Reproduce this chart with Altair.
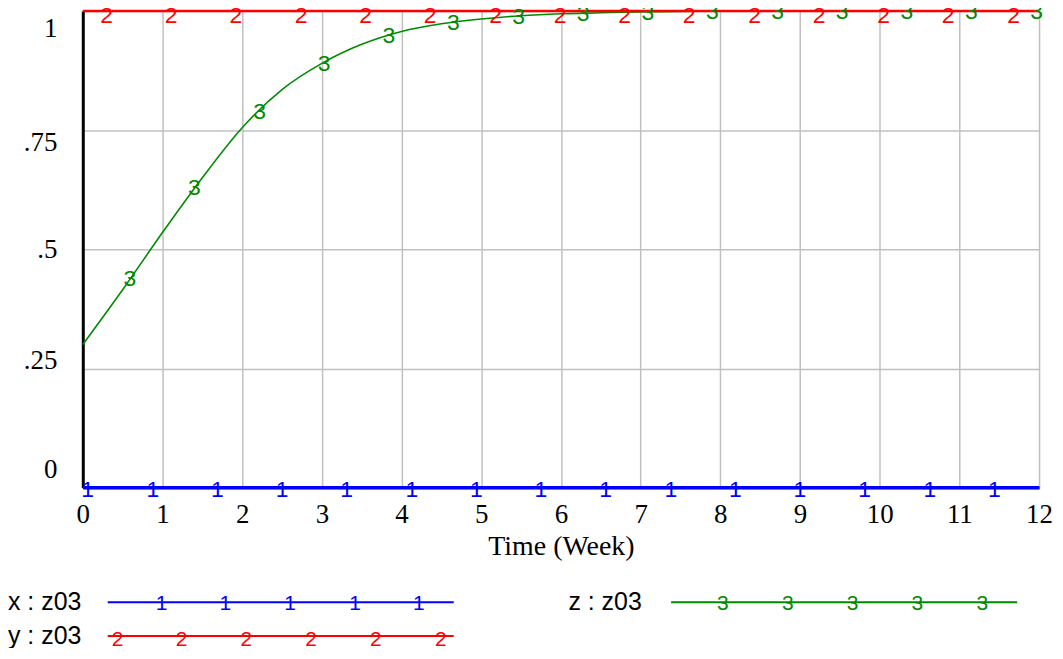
import altair as alt
import pandas as pd

# ---- data ----
time_grid = [0, 0.5, 1, 1.5, 2, 2.5, 3, 3.5, 4, 4.5, 5, 5.5, 6, 6.5, 7, 7.5,
             8, 8.5, 9, 9.5, 10, 10.5, 11, 11.5, 12]
x_values = [0, 0, 0, 0, 0, 0, 0, 0, 0, 0, 0, 0, 0, 0, 0, 0, 0, 0, 0, 0, 0, 0, 0, 0, 0]
y_values = [1, 1, 1, 1, 1, 1, 1, 1, 1, 1, 1, 1, 1, 1, 1, 1, 1, 1, 1, 1, 1, 1, 1, 1, 1]
z_values = [0.30, 0.415, 0.535, 0.65, 0.755, 0.835, 0.89, 0.93, 0.957, 0.973,
            0.983, 0.99, 0.994, 0.996, 0.998, 0.999, 1.0, 1.0, 1.0, 1.0,
            1.0, 1.0, 1.0, 1.0, 1.0]

x_marker_t = [0.06, 0.88, 1.69, 2.5, 3.31, 4.13, 4.94, 5.75, 6.56, 7.38, 8.19,
              9.0, 9.81, 10.63, 11.44]
x_marker_v = [0, 0, 0, 0, 0, 0, 0, 0, 0, 0, 0, 0, 0, 0, 0]
y_marker_t = [0.3, 1.11, 1.92, 2.74, 3.55, 4.36, 5.18, 5.99, 6.8, 7.61, 8.43,
              9.24, 10.05, 10.86, 11.68]
y_marker_v = [1, 1, 1, 1, 1, 1, 1, 1, 1, 1, 1, 1, 1, 1, 1]
z_marker_t = [0.59, 1.4, 2.22, 3.03, 3.84, 4.65, 5.47, 6.28, 7.09, 7.9, 8.72,
              9.53, 10.34, 11.15, 11.97]
z_marker_v = [0.44, 0.63, 0.79, 0.89, 0.95, 0.977, 0.99, 0.995, 0.998, 0.999,
              1.0, 1.0, 1.0, 1.0, 1.0]

x_ticks = [0, 1, 2, 3, 4, 5, 6, 7, 8, 9, 10, 11, 12]
y_ticks = [0, 0.25, 0.5, 0.75, 1]

BLUE = "#0000ff"
RED = "#ff0000"
GREEN = "#008a00"

W, H = 959, 478

lines_df = pd.DataFrame({"t": time_grid, "x": x_values, "y": y_values, "z": z_values})
xm = pd.DataFrame({"t": x_marker_t, "v": x_marker_v, "lab": "1"})
ym = pd.DataFrame({"t": y_marker_t, "v": y_marker_v, "lab": "2"})
zm = pd.DataFrame({"t": z_marker_t, "v": z_marker_v, "lab": "3"})

xscale = alt.Scale(domain=[0, 12], nice=False, zero=False)
yscale = alt.Scale(domain=[0, 1], nice=False)

x_axis = alt.Axis(values=x_ticks, format="d", title="Time (Week)", grid=True,
                  gridColor="#c0c0c0", gridWidth=1.5, ticks=False,
                  labelFont="Liberation Serif", labelFontSize=27, labelColor="black",
                  labelPadding=14, titleFont="Liberation Serif", titleFontSize=28,
                  titleFontWeight="normal", titleColor="black", titlePadding=5,
                  domainColor="black", domainWidth=3, labelFlush=False)
y_axis = alt.Axis(values=y_ticks, title=None, grid=True, gridColor="#c0c0c0", gridWidth=1.5,
                  ticks=False, labelFont="Liberation Serif", labelFontSize=27,
                  labelColor="black", labelPadding=26, domainColor="black", domainWidth=3,
                  labelFlush=False, labelBaseline="middle",
                  labelExpr="datum.value == 0 ? '0' : datum.value == 1 ? '1' : replace(toString(datum.value), '0.', '.')",
                  labelOffset={"condition": [
                      {"test": "datum.value == 1", "value": 18},
                      {"test": "datum.value == 0.75", "value": 12},
                      {"test": "datum.value == 0.25", "value": -8},
                      {"test": "datum.value == 0", "value": -18}], "value": 0})

base = alt.Chart(lines_df)
axes_layer = base.mark_line(opacity=0).encode(
    x=alt.X("t:Q", scale=xscale, axis=x_axis),
    y=alt.Y("z:Q", scale=yscale, axis=y_axis))

z_line = base.mark_line(color=GREEN, strokeWidth=1.6, interpolate="monotone").encode(
    x=alt.X("t:Q", scale=xscale), y=alt.Y("z:Q", scale=yscale))
y_line = base.mark_line(color=RED, strokeWidth=2.5).encode(
    x=alt.X("t:Q", scale=xscale), y=alt.Y("y:Q", scale=yscale))
x_line = base.mark_line(color=BLUE, strokeWidth=3).encode(
    x=alt.X("t:Q", scale=xscale), y=alt.Y("x:Q", scale=yscale))


def markers(df, color, dy):
    return alt.Chart(df).mark_text(font="Liberation Sans", fontSize=23, color=color,
                                   baseline="middle", align="center", dy=dy).encode(
        x=alt.X("t:Q", scale=xscale), y=alt.Y("v:Q", scale=yscale), text="lab:N")


layers = [axes_layer, z_line, y_line, x_line,
          markers(xm, BLUE, 2), markers(ym, RED, 5), markers(zm, GREEN, 1)]

# ---- legend (below the plot) ----
legend_items = [
    # label, color, text-x, row-y, line x1, line x2, marker xs, digit
    ("x : z03", BLUE, -75, 593, 25, 372, [79, 143, 208, 273, 337], "1"),
    ("y : z03", RED, -75, 627, 25, 372, [35, 99, 164, 229, 294, 359], "2"),
    ("z : z03", GREEN, 487, 593, 590, 937, [642, 707, 772, 837, 902], "3"),
]
dummy = alt.Chart(pd.DataFrame({"a": [0]}))
for label, color, tx, ry, lx1, lx2, mxs, digit in legend_items:
    layers.append(dummy.mark_text(font="Liberation Sans", fontSize=25, color="black",
                                  align="left", baseline="middle", text=label).encode(
        x=alt.value(tx), y=alt.value(ry)))
    layers.append(dummy.mark_rule(color=color, strokeWidth=2).encode(
        x=alt.value(lx1), x2=alt.value(lx2), y=alt.value(ry)))
    for mx in mxs:
        layers.append(dummy.mark_text(font="Liberation Sans", fontSize=21, color=color,
                                      align="center", baseline="middle", text=digit,
                                      dy=(4 if digit == "2" else 2)).encode(
            x=alt.value(mx), y=alt.value(ry)))

chart = alt.layer(*layers).properties(
    width=W, height=H,
    autosize=alt.AutoSizeParams(type="none"),
    padding={"left": 75, "top": 2, "right": 16, "bottom": 160},
).configure_view(stroke="black", strokeWidth=3).configure(background="white")

chart.save("out.html", embed_options={"renderer": "svg", "actions": False})
